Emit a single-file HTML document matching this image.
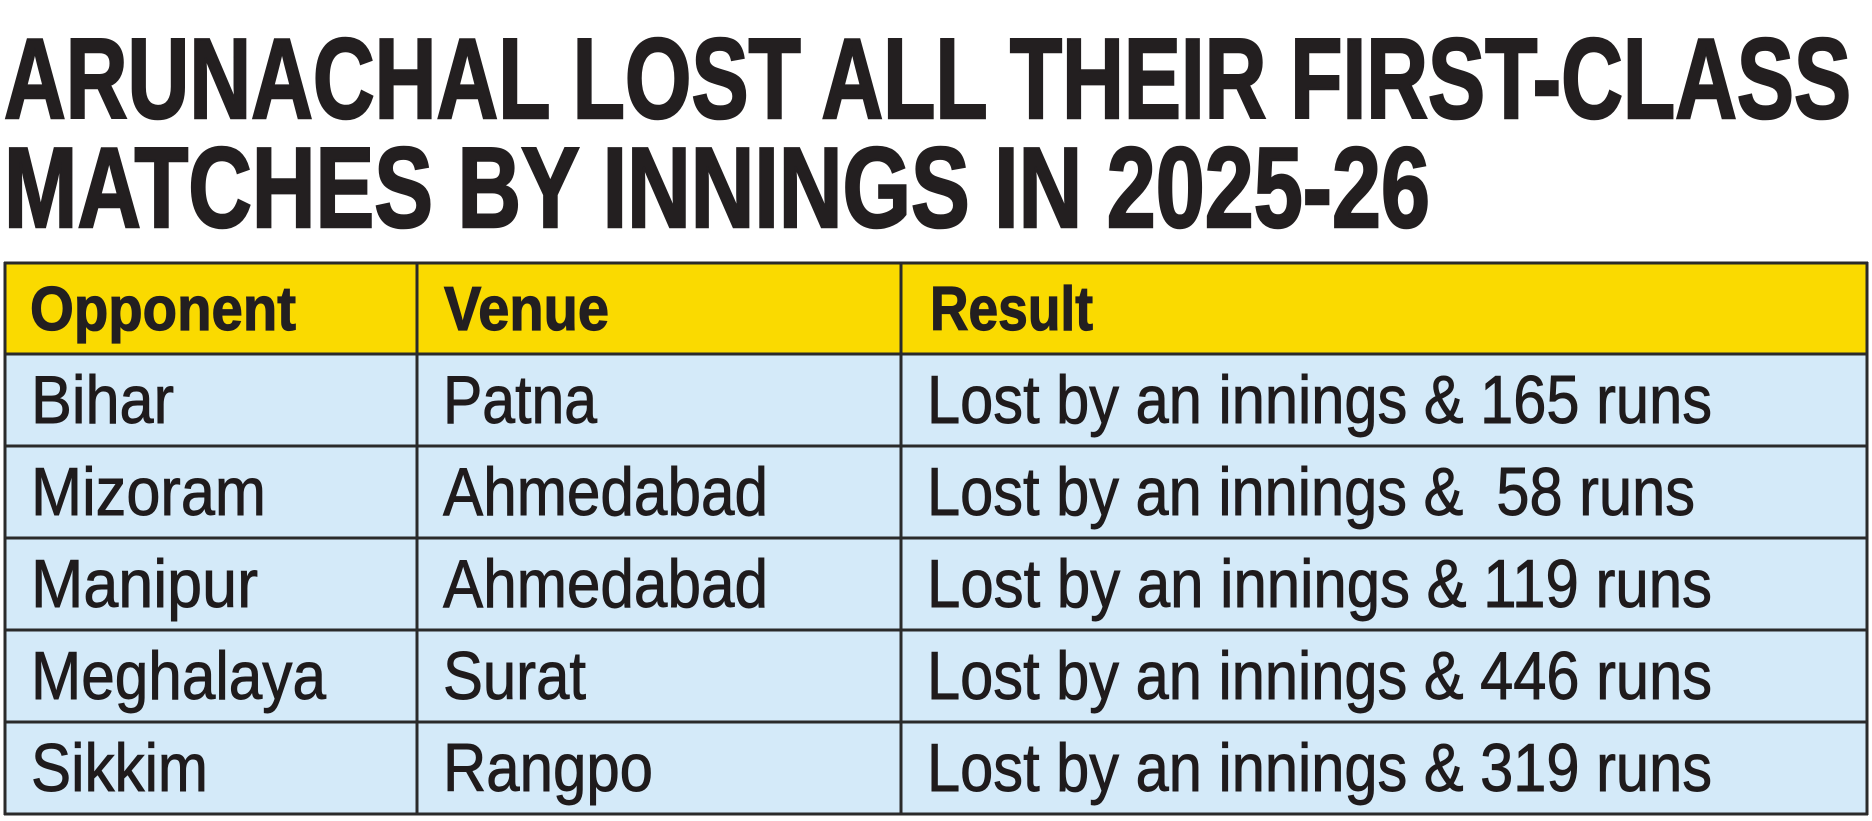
<!DOCTYPE html>
<html>
<head>
<meta charset="utf-8">
<style>
  html, body { margin: 0; padding: 0; background: #ffffff; }
  body { width: 1872px; height: 821px; overflow: hidden; }
  svg { display: block; }
  .title { font-family: "Liberation Sans", sans-serif; font-weight: bold; font-size: 114px; fill: #231f20; stroke: #231f20; stroke-width: 2.5; }
  .hdr { font-family: "Liberation Sans", sans-serif; font-weight: bold; font-size: 62px; fill: #231f20; stroke: #231f20; stroke-width: 1.2; }
  .cell { font-family: "Liberation Sans", sans-serif; font-size: 68px; fill: #1f1b1c; stroke: #1f1b1c; stroke-width: 0.9; }
</style>
</head>
<body>
<svg width="1872" height="821" viewBox="0 0 1872 821" xmlns="http://www.w3.org/2000/svg">
  <rect x="0" y="0" width="1872" height="821" fill="#ffffff"/>

  <!-- Title -->
  <text class="title" x="4" y="118" textLength="1847" lengthAdjust="spacingAndGlyphs">ARUNACHAL LOST ALL THEIR FIRST-CLASS</text>
  <text class="title" x="4" y="227" textLength="1426" lengthAdjust="spacingAndGlyphs">MATCHES BY INNINGS IN 2025-26</text>

  <!-- Table fills -->
  <rect x="5" y="263" width="1862" height="91" fill="#fada00"/>
  <rect x="5" y="354" width="1862" height="460" fill="#d4eaf9"/>

  <!-- Horizontal lines -->
  <g stroke="#2a2a2a" stroke-width="3">
    <line x1="4" y1="263" x2="1868" y2="263"/>
    <line x1="4" y1="354" x2="1868" y2="354"/>
    <line x1="4" y1="446" x2="1868" y2="446"/>
    <line x1="4" y1="538" x2="1868" y2="538"/>
    <line x1="4" y1="630" x2="1868" y2="630"/>
    <line x1="4" y1="722" x2="1868" y2="722"/>
    <line x1="4" y1="814" x2="1868" y2="814"/>
    <!-- Vertical lines -->
    <line x1="5" y1="262" x2="5" y2="815"/>
    <line x1="417" y1="262" x2="417" y2="815"/>
    <line x1="901" y1="262" x2="901" y2="815"/>
    <line x1="1867" y1="262" x2="1867" y2="815"/>
  </g>

  <!-- Header -->
  <text class="hdr" x="30" y="330" textLength="266" lengthAdjust="spacingAndGlyphs">Opponent</text>
  <text class="hdr" x="444" y="330" textLength="165" lengthAdjust="spacingAndGlyphs">Venue</text>
  <text class="hdr" x="930" y="330" textLength="163" lengthAdjust="spacingAndGlyphs">Result</text>

  <!-- Row 1 -->
  <text class="cell" x="31" y="423" textLength="143" lengthAdjust="spacingAndGlyphs">Bihar</text>
  <text class="cell" x="443" y="423" textLength="154" lengthAdjust="spacingAndGlyphs">Patna</text>
  <text class="cell" x="927" y="423" textLength="785" lengthAdjust="spacingAndGlyphs">Lost by an innings &amp; 165 runs</text>

  <!-- Row 2 -->
  <text class="cell" x="31" y="515" textLength="235" lengthAdjust="spacingAndGlyphs">Mizoram</text>
  <text class="cell" x="443" y="515" textLength="325" lengthAdjust="spacingAndGlyphs">Ahmedabad</text>
  <text class="cell" x="927" y="515" textLength="768" lengthAdjust="spacingAndGlyphs" xml:space="preserve">Lost by an innings &amp;  58 runs</text>

  <!-- Row 3 -->
  <text class="cell" x="31" y="607" textLength="227" lengthAdjust="spacingAndGlyphs">Manipur</text>
  <text class="cell" x="443" y="607" textLength="325" lengthAdjust="spacingAndGlyphs">Ahmedabad</text>
  <text class="cell" x="927" y="607" textLength="785" lengthAdjust="spacingAndGlyphs">Lost by an innings &amp; 119 runs</text>

  <!-- Row 4 -->
  <text class="cell" x="31" y="699" textLength="295" lengthAdjust="spacingAndGlyphs">Meghalaya</text>
  <text class="cell" x="443" y="699" textLength="143" lengthAdjust="spacingAndGlyphs">Surat</text>
  <text class="cell" x="927" y="699" textLength="785" lengthAdjust="spacingAndGlyphs">Lost by an innings &amp; 446 runs</text>

  <!-- Row 5 -->
  <text class="cell" x="31" y="791" textLength="177" lengthAdjust="spacingAndGlyphs">Sikkim</text>
  <text class="cell" x="443" y="791" textLength="210" lengthAdjust="spacingAndGlyphs">Rangpo</text>
  <text class="cell" x="927" y="791" textLength="785" lengthAdjust="spacingAndGlyphs">Lost by an innings &amp; 319 runs</text>
</svg>
</body>
</html>
